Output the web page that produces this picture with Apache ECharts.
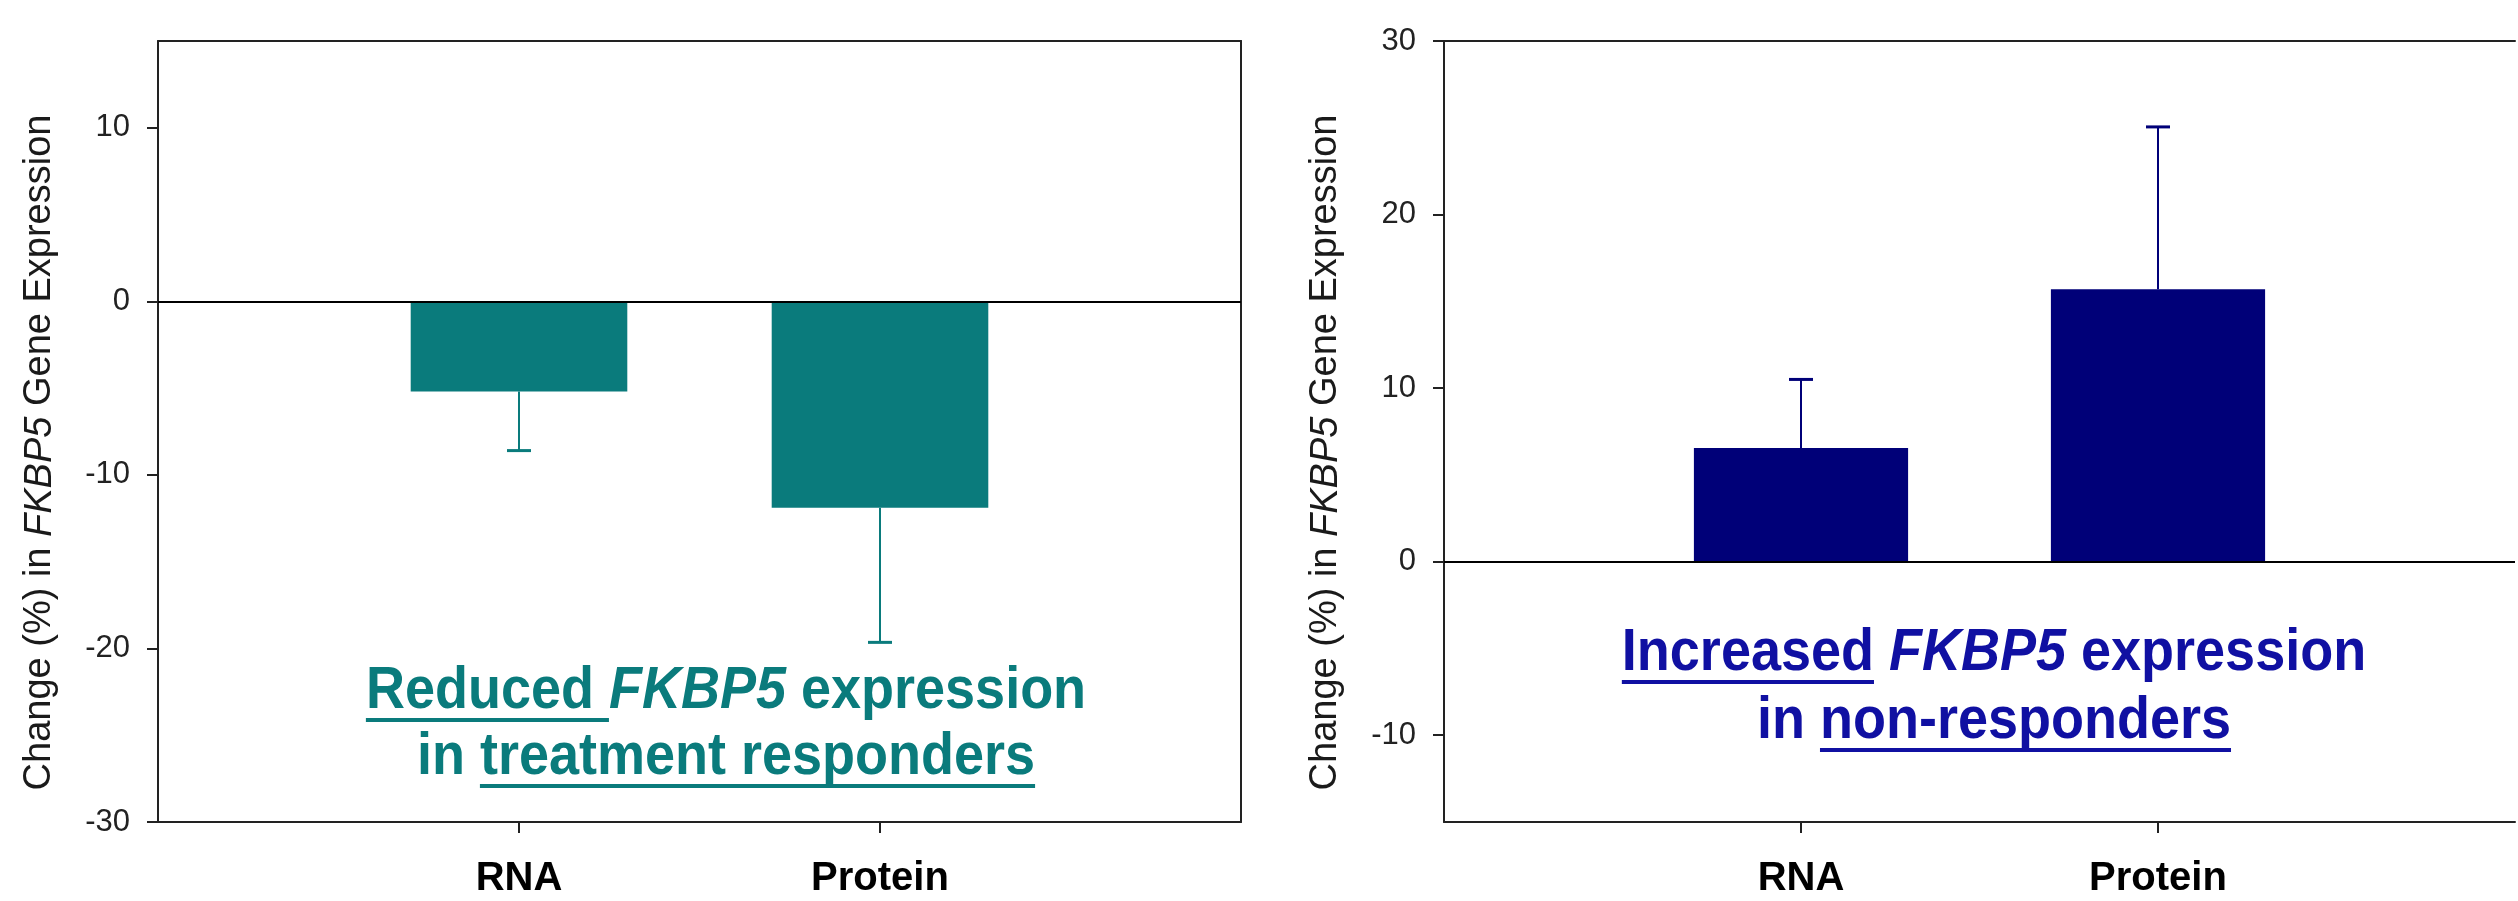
<!DOCTYPE html>
<html>
<head>
<meta charset="utf-8">
<script src="https://cdn.jsdelivr.net/npm/echarts@6/dist/echarts.min.js"></script>
<style>
  html, body { margin: 0; padding: 0; background: #fff; }
  #chart { width: 2518px; height: 901px; }
</style>
</head>
<body>
<div id="chart"></div>
<script>
// ---- data ----
const categories = ['', 'RNA', 'Protein', ''];
const barCategories = ['RNA', 'Protein'];
const responderValues = [-5.2, -11.9];
const responderErrorEnds = [-8.6, -19.65];
const nonResponderValues = [6.55, 15.7];
const nonResponderErrorEnds = [10.5, 25.05];
const leftTicks = [-30, -20, -10, 0, 10];
const rightTicks = [-10, 0, 10, 20, 30];
const axisTitle = 'Change (%) in {i|FKBP5} Gene Expression';
const leftNote = [
  [{ t: 'Reduced ', u: true }, { t: 'FKBP5', i: true }, { t: ' expression' }],
  [{ t: 'in ' }, { t: 'treatment responders', u: true }]
];
const rightNote = [
  [{ t: 'Increased', u: true }, { t: ' ' }, { t: 'FKBP5', i: true }, { t: ' expression' }],
  [{ t: 'in ' }, { t: 'non-responders', u: true }]
];

const TEAL = '#0a7b7c';
const NAVY = '#000078';
const BLUE_TEXT = '#1010a2';
const FONT = '"Liberation Sans", Arial, Helvetica, sans-serif';

const chart = echarts.init(document.getElementById('chart'));

function xAxes(gridIndex) {
  return [
    {
      type: 'category', gridIndex: gridIndex, data: categories, boundaryGap: false,
      position: 'bottom',
      axisLine: { onZero: false, lineStyle: { color: '#222', width: 2 } },
      axisTick: { show: true, length: 11, inside: false,
        interval: function (i) { return i === 1 || i === 2; },
        lineStyle: { color: '#222', width: 2 } },
      axisLabel: { interval: 0, margin: 37, fontFamily: FONT, fontSize: 40, fontWeight: 'bold', color: '#000' },
      splitLine: { show: false }
    },
    {
      type: 'category', gridIndex: gridIndex, data: categories, boundaryGap: false,
      position: 'top',
      axisLine: { onZero: false, lineStyle: { color: '#222', width: 2 } },
      axisTick: { show: false }, axisLabel: { show: false }, splitLine: { show: false }
    }
  ];
}

function yAxisMain(gridIndex, min, max, ticks) {
  return {
    type: 'value', gridIndex: gridIndex, min: min, max: max, position: 'left',
    axisLine: { show: true, lineStyle: { color: '#222', width: 2 } },
    axisTick: { show: true, length: 11, customValues: ticks, lineStyle: { color: '#222', width: 2 } },
    axisLabel: { customValues: ticks, margin: 28, fontFamily: FONT, fontSize: 31, color: '#222' },
    splitLine: { show: false },
    name: axisTitle, nameLocation: 'middle', nameGap: 99, nameRotate: 90,
    nameTextStyle: {
      fontFamily: FONT, fontSize: 38, color: '#1a1a1a', padding: [0, 42, 0, 0],
      rich: { i: { fontFamily: FONT, fontSize: 38, fontStyle: 'italic', color: '#1a1a1a' } }
    }
  };
}

function errorSeries(xi, yi, cats, vals, ends, color) {
  return {
    type: 'custom', xAxisIndex: xi, yAxisIndex: yi, z: 5, silent: true,
    encode: { x: 0, y: [1, 2] },
    data: cats.map(function (c, k) { return [c, vals[k], ends[k]]; }),
    renderItem: function (params, api) {
      const x = api.value(0);
      const p0 = api.coord([x, api.value(1)]);
      const p1 = api.coord([x, api.value(2)]);
      return {
        type: 'group',
        children: [
          { type: 'line', shape: { x1: p0[0], y1: p0[1], x2: p1[0], y2: p1[1] },
            style: { stroke: color, lineWidth: 2 } },
          { type: 'line', shape: { x1: p1[0] - 12, y1: p1[1], x2: p1[0] + 12, y2: p1[1] },
            style: { stroke: color, lineWidth: 3 } }
        ]
      };
    }
  };
}

function barSeries(xi, yi, cats, vals, color) {
  return {
    type: 'bar', xAxisIndex: xi, yAxisIndex: yi, barWidth: '60%', silent: true,
    itemStyle: { color: color },
    data: cats.map(function (c, k) { return [c, vals[k]]; }),
    markLine: {
      silent: true, symbol: 'none', label: { show: false },
      lineStyle: { color: '#000', width: 2, type: 'solid' },
      data: [{ yAxis: 0 }]
    }
  };
}

// annotation text with underlines (measured with the same font, condensed by scaleX)
const measureCtx = document.createElement('canvas').getContext('2d');
function noteElements(lines, cx, cys, color) {
  const els = [];
  const size = 60;
  const sx = 0.9;
  lines.forEach(function (segs, li) {
    const cy = cys[li];
    const widths = segs.map(function (s) {
      measureCtx.font = (s.i ? 'italic ' : '') + 'bold ' + size + 'px ' + FONT;
      return measureCtx.measureText(s.t).width * sx;
    });
    const total = widths.reduce(function (a, b) { return a + b; }, 0);
    let x = cx - total / 2;
    segs.forEach(function (s, k) {
      els.push({
        type: 'text', x: x, y: cy, scaleX: sx, silent: true,
        style: { text: s.t, fontFamily: FONT, fontSize: size, fontWeight: 'bold',
          fontStyle: s.i ? 'italic' : 'normal', fill: color,
          align: 'left', verticalAlign: 'middle' }
      });
      if (s.u) {
        els.push({ type: 'rect', silent: true,
          shape: { x: x, y: cy + 27, width: widths[k], height: 4 },
          style: { fill: color } });
      }
      x += widths[k];
    });
  });
  return els;
}

const option = {
  animation: false,
  backgroundColor: '#fff',
  grid: [
    { left: 158, top: 41, width: 1083, height: 781 },
    { left: 1444, top: 41, width: 1083, height: 781 }
  ],
  xAxis: xAxes(0).concat(xAxes(1)),
  yAxis: [
    yAxisMain(0, -30, 15, leftTicks),
    { type: 'value', gridIndex: 0, min: -30, max: 15, position: 'right',
      axisLine: { show: true, lineStyle: { color: '#222', width: 2 } },
      axisTick: { show: false }, axisLabel: { show: false }, splitLine: { show: false } },
    yAxisMain(1, -15, 30, rightTicks)
  ],
  series: [
    barSeries(0, 0, barCategories, responderValues, TEAL),
    errorSeries(0, 0, barCategories, responderValues, responderErrorEnds, TEAL),
    barSeries(2, 2, barCategories, nonResponderValues, NAVY),
    errorSeries(2, 2, barCategories, nonResponderValues, nonResponderErrorEnds, NAVY)
  ],
  graphic: noteElements(leftNote, 726, [691, 757], TEAL)
    .concat(noteElements(rightNote, 1994, [653, 721], BLUE_TEXT))
};
chart.setOption(option);
</script>
</body>
</html>
